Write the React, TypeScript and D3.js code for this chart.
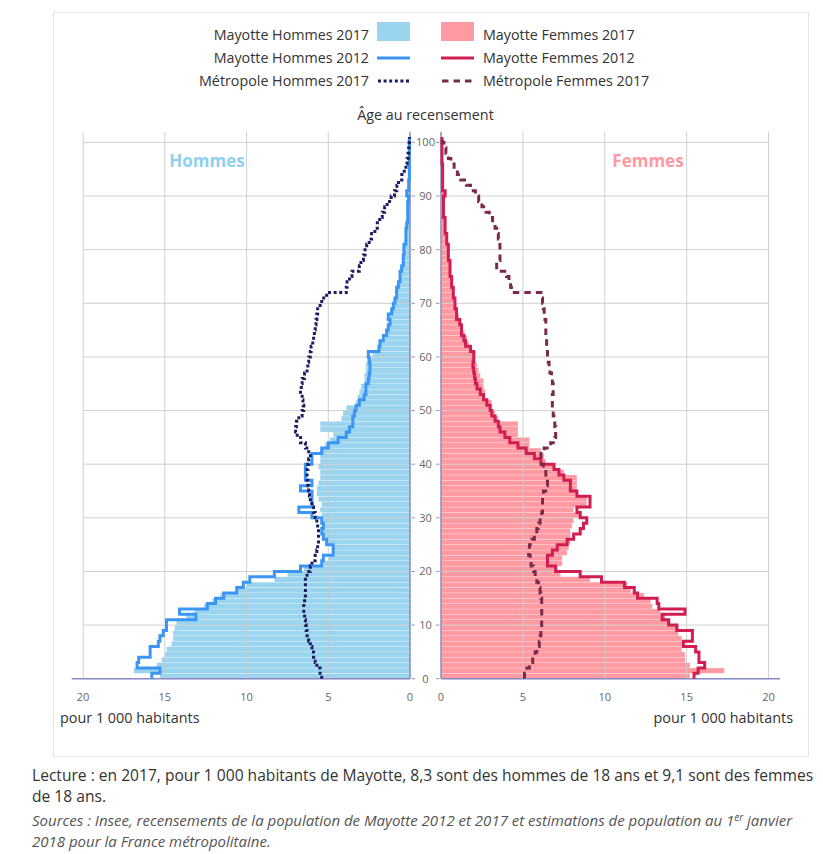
import React from 'react';
import * as d3 from 'd3';

// Ages 0..100, values per 1 000 inhabitants
const AGES = d3.range(0, 101);

const MAYOTTE_H_2017 = [
  15.3, 16.9, 15.5, 15.2, 15.0, 14.9, 14.6, 14.5, 14.5, 14.4,
  14.3, 13.7, 13.2, 12.6, 12.1, 11.6, 10.7, 10.0, 8.3, 7.5,
  6.5, 5.3, 5.0, 4.8, 4.8, 5.0, 5.2, 5.3, 5.3, 5.3,
  5.4, 5.5, 5.4, 5.6, 5.7, 5.7, 5.6, 5.5, 5.5, 5.6,
  5.5, 5.5, 5.4, 5.2, 4.9, 4.7, 5.5, 5.5, 4.2, 4.1,
  3.9, 3.3, 3.2, 3.1, 3.0, 2.8, 2.8, 2.7, 2.7, 2.6,
  2.3, 1.9, 1.8, 1.55, 1.5, 1.35, 1.3, 1.25, 1.2, 1.05,
  1.0, 0.85, 0.8, 0.75, 0.65, 0.65, 0.6, 0.5, 0.5, 0.45,
  0.45, 0.35, 0.3, 0.3, 0.25, 0.2, 0.2, 0.18, 0.16, 0.2,
  0.2, 0.1, 0.1, 0.08, 0.06, 0.05, 0.04, 0.03, 0.02, 0.02, 0.02,
];

const MAYOTTE_H_2012 = [
  15.8, 15.3, 16.7, 16.6, 15.9, 15.9, 15.4, 15.3, 15.1, 14.9,
  14.9, 13.1, 14.1, 12.4, 11.9, 11.4, 10.6, 10.2, 9.8, 8.3,
  6.7, 5.4, 5.3, 4.7, 4.7, 5.1, 5.3, 5.4, 5.3, 5.4,
  6.0, 6.8, 6.0, 6.0, 6.0, 6.7, 6.0, 6.4, 6.4, 6.4,
  6.0, 6.0, 5.4, 5.0, 4.4, 3.9, 3.7, 3.5, 3.5, 3.4,
  3.3, 3.1, 2.8, 2.7, 2.7, 2.55, 2.5, 2.45, 2.45, 2.5,
  2.55, 1.9, 1.84, 1.63, 1.43, 1.33, 1.22, 1.33, 1.12, 1.02,
  0.92, 0.82, 0.82, 0.71, 0.61, 0.61, 0.51, 0.41, 0.41, 0.37,
  0.37, 0.25, 0.25, 0.25, 0.2, 0.14, 0.14, 0.14, 0.14, 0.08,
  0.2, 0.08, 0.08, 0.04, 0.04, 0.04, 0.04, 0.04, 0.04, 0.04, 0.04,
];

const METRO_H_2017 = [
  5.4, 5.5, 5.7, 5.8, 5.9, 6.0, 6.1, 6.2, 6.3, 6.35,
  6.4, 6.45, 6.5, 6.5, 6.45, 6.4, 6.4, 6.4, 6.4, 6.3,
  6.1, 6.0, 5.8, 5.7, 5.65, 5.6, 5.6, 5.6, 5.65, 5.7,
  5.8, 5.9, 6.0, 6.1, 6.15, 6.2, 6.25, 6.3, 6.3, 6.25,
  6.2, 6.1, 6.2, 6.4, 6.7, 6.9, 7.0, 6.95, 6.8, 6.6,
  6.5, 6.55, 6.6, 6.7, 6.65, 6.6, 6.45, 6.3, 6.25, 6.2,
  6.1, 6.05, 5.95, 5.9, 5.85, 5.8, 5.75, 5.7, 5.65, 5.5,
  5.4, 5.1, 3.9, 3.85, 3.7, 3.55, 3.1, 3.0, 2.85, 2.75,
  2.65, 2.5, 2.35, 2.15, 2.0, 1.85, 1.7, 1.55, 1.4, 1.15,
  0.95, 0.8, 0.7, 0.5, 0.35, 0.25, 0.18, 0.12, 0.08, 0.05, 0.03,
];

const MAYOTTE_F_2017 = [
  15.2, 17.3, 15.2, 14.9, 14.9, 14.7, 14.7, 14.7, 14.5, 14.5,
  14.0, 13.7, 13.4, 12.9, 12.8, 12.4, 11.6, 11.4, 9.1, 7.3,
  7.1, 7.4, 7.4, 7.7, 7.8, 7.9, 7.9, 7.9, 8.0, 8.1,
  8.6, 8.1, 8.9, 8.9, 8.3, 8.3, 8.3, 8.3, 7.5, 6.9,
  6.4, 6.3, 6.1, 5.4, 5.4, 4.7, 4.7, 4.7, 3.5, 3.3,
  3.1, 3.1, 2.7, 2.7, 2.6, 2.6, 2.4, 2.3, 2.2, 2.1,
  2.1, 1.9, 1.7, 1.6, 1.45, 1.35, 1.2, 1.1, 1.0, 0.95,
  0.9, 0.8, 0.75, 0.7, 0.65, 0.6, 0.55, 0.5, 0.5, 0.45,
  0.45, 0.4, 0.35, 0.3, 0.28, 0.25, 0.2, 0.18, 0.16, 0.15,
  0.2, 0.12, 0.1, 0.08, 0.07, 0.06, 0.05, 0.04, 0.03, 0.02, 0.02,
];

const MAYOTTE_F_2012 = [
  15.45, 15.7, 16.1, 15.75, 15.75, 15.55, 14.8, 15.35, 15.35, 14.4,
  13.9, 13.5, 14.9, 13.3, 13.2, 12.0, 11.8, 11.2, 9.8, 8.5,
  7.0, 6.5, 6.5, 6.8, 7.1, 7.7, 8.1, 8.5, 8.7, 8.9,
  8.5, 8.3, 9.1, 9.1, 8.3, 7.9, 7.9, 7.5, 7.2, 6.9,
  6.1, 5.7, 5.2, 4.7, 4.2, 3.9, 3.6, 3.5, 3.3, 3.1,
  3.0, 2.8, 2.6, 2.4, 2.2, 2.1, 2.05, 2.0, 1.95, 2.0,
  2.0, 1.8, 1.5, 1.4, 1.25, 1.25, 1.15, 0.95, 0.95, 0.85,
  0.85, 0.75, 0.75, 0.65, 0.65, 0.55, 0.55, 0.55, 0.45, 0.45,
  0.45, 0.35, 0.35, 0.25, 0.25, 0.25, 0.15, 0.15, 0.15, 0.15,
  0.25, 0.1, 0.1, 0.1, 0.1, 0.1, 0.06, 0.06, 0.06, 0.06, 0.06,
];

const METRO_F_2017 = [
  5.1, 5.25, 5.4, 5.6, 5.75, 5.85, 6.0, 6.05, 6.1, 6.15,
  6.15, 6.15, 6.15, 6.15, 6.15, 6.1, 6.05, 5.95, 5.85, 5.75,
  5.65, 5.5, 5.45, 5.35, 5.4, 5.55, 5.7, 5.85, 5.95, 6.05,
  6.15, 6.2, 6.2, 6.2, 6.25, 6.4, 6.5, 6.5, 6.4, 6.25,
  6.15, 6.1, 6.3, 6.7, 6.95, 7.0, 7.0, 6.95, 6.9, 6.85,
  6.8, 6.8, 6.8, 6.85, 6.85, 6.8, 6.75, 6.65, 6.6, 6.55,
  6.5, 6.5, 6.45, 6.45, 6.4, 6.4, 6.4, 6.35, 6.3, 6.25,
  6.2, 6.1, 4.3, 4.25, 4.15, 4.0, 3.4, 3.4, 3.6, 3.6,
  3.6, 3.6, 3.5, 3.4, 3.3, 3.15, 2.95, 2.75, 2.5, 2.3,
  2.1, 1.8, 1.55, 1.2, 1.0, 0.8, 0.6, 0.45, 0.3, 0.18, 0.08,
];

const X_TICKS = [0, 5, 10, 15, 20];
const AGE_TICKS = d3.range(0, 101, 10);

const LEGEND_LEFT = ['Mayotte Hommes 2017', 'Mayotte Hommes 2012', 'Métropole Hommes 2017'];
const LEGEND_RIGHT = ['Mayotte Femmes 2017', 'Mayotte Femmes 2012', 'Métropole Femmes 2017'];

const C = {
  menFill: '#9bd4ef',
  men2012: '#3b96f3',
  menMetro: '#1c1c62',
  womenFill: '#ff9aa3',
  women2012: '#d01d52',
  womenMetro: '#7a2a4a',
  grid: '#c9c9c9',
  axis: '#8a8ac6',
  text: '#333333',
  tick: '#666666',
};

const FONT = '"Open Sans", "Noto Sans", sans-serif';

export default function App() {
  const width = 823;
  const height = 854;

  const y = d3.scaleLinear().domain([0, 102]).range([678.7, 131.7]);
  const xL = d3.scaleLinear().domain([0, 20.7]).range([410, 71.7]);
  const xR = d3.scaleLinear().domain([0, 20.7]).range([441, 780]);

  // step outline: one vertical segment per age band
  const stepPath = (vals: number[], xs: d3.ScaleLinear<number, number>) => {
    const pts = vals.flatMap((v, a) => [[v, a], [v, a + 1]] as [number, number][]);
    return d3.line<[number, number]>().x(d => xs(d[0])).y(d => y(d[1]))(pts) || '';
  };

  const bars = (vals: number[], xs: d3.ScaleLinear<number, number>, fill: string) =>
    AGES.map(a => {
      const x0 = xs(0), x1 = xs(vals[a]);
      return (
        <rect key={a} x={Math.min(x0, x1)} y={y(a + 1)} width={Math.abs(x1 - x0)} height={y(a) - y(a + 1)}
          fill={fill} stroke="#ffffff" strokeOpacity={0.35} strokeWidth={0.6} />
      );
    });

  const grid = (xs: d3.ScaleLinear<number, number>, side: string) => (
    <g key={side}>
      {AGE_TICKS.map(t => (
        <line key={'h' + t} x1={xs(0)} x2={xs(20)} y1={y(t)} y2={y(t)} stroke={C.grid} strokeWidth={1} opacity={0.85} />
      ))}
      {X_TICKS.filter(t => t > 0).map(t => (
        <line key={'v' + t} x1={xs(t)} x2={xs(t)} y1={y(102)} y2={y(0)} stroke={C.grid} strokeWidth={1} opacity={0.85} />
      ))}
    </g>
  );

  const legendX = { symL: 377, symR: 441, symW: 33 };
  const rowsY = [40, 63, 86];

  return (
    <svg width={width} height={height} style={{ position: 'absolute', left: 0, top: 0, background: '#fff' }}
      fontFamily={FONT}>
      <rect x={53.5} y={12.5} width={755} height={744} fill="none" stroke="#e3e3e3" strokeWidth={1} />

      {/* Legend */}
      {LEGEND_LEFT.map((t, i) => (
        <text key={t} x={369} y={rowsY[i]} textAnchor="end" fontSize={14.3} fill={C.text}>{t}</text>
      ))}
      {LEGEND_RIGHT.map((t, i) => (
        <text key={t} x={483} y={rowsY[i]} fontSize={14.3} fill={C.text}>{t}</text>
      ))}
      <rect x={legendX.symL} y={22} width={legendX.symW} height={19} fill={C.menFill} />
      <rect x={legendX.symR} y={22} width={legendX.symW} height={19} fill={C.womenFill} />
      <line x1={legendX.symL} x2={legendX.symL + legendX.symW} y1={58} y2={58} stroke={C.men2012} strokeWidth={3} />
      <line x1={legendX.symR} x2={legendX.symR + legendX.symW} y1={58} y2={58} stroke={C.women2012} strokeWidth={3} />
      <line x1={legendX.symL + 1} x2={legendX.symL + legendX.symW} y1={81} y2={81} stroke={C.menMetro} strokeWidth={3} strokeDasharray="3,2.6" />
      <line x1={legendX.symR + 1} x2={legendX.symR + legendX.symW} y1={81} y2={81} stroke={C.womenMetro} strokeWidth={3} strokeDasharray="6.5,5" />

      <text x={425.5} y={120} textAnchor="middle" fontSize={14.3} fill={C.text}>Âge au recensement</text>

      {/* Bars */}
      {bars(MAYOTTE_H_2017, xL, C.menFill)}
      {bars(MAYOTTE_F_2017, xR, C.womenFill)}

      {grid(xL, 'L')}
      {grid(xR, 'R')}

      {/* Axes */}
      <line x1={xL(20.7)} x2={xL(0)} y1={y(0)} y2={y(0)} stroke={C.axis} strokeWidth={1.5} />
      <line x1={xR(0)} x2={xR(20.7)} y1={y(0)} y2={y(0)} stroke={C.axis} strokeWidth={1.5} />
      <line x1={xL(0)} x2={xL(0)} y1={y(102)} y2={y(0)} stroke={C.axis} strokeWidth={1.5} />
      <line x1={xR(0)} x2={xR(0)} y1={y(102)} y2={y(0)} stroke={C.axis} strokeWidth={1.5} />

      {/* Age labels between the two panels */}
      {AGE_TICKS.map(t => (
        <g key={'age' + t}>
          <line x1={411.5} x2={415} y1={y(t)} y2={y(t)} stroke="#999" strokeWidth={1} />
          <line x1={436} x2={439.5} y1={y(t)} y2={y(t)} stroke="#999" strokeWidth={1} />
          <text x={425.5} y={y(t)} dy="0.35em" textAnchor="middle" fontSize={11} fill={C.tick}>{t}</text>
        </g>
      ))}

      {/* Lines */}
      <path d={stepPath(MAYOTTE_H_2012, xL)} fill="none" stroke={C.men2012} strokeWidth={3} strokeLinejoin="miter" />
      <path d={stepPath(MAYOTTE_F_2012, xR)} fill="none" stroke={C.women2012} strokeWidth={3} strokeLinejoin="miter" />
      <path d={stepPath(METRO_H_2017, xL)} fill="none" stroke={C.menMetro} strokeWidth={3} strokeDasharray="3,2.6" />
      <path d={stepPath(METRO_F_2017, xR)} fill="none" stroke={C.womenMetro} strokeWidth={3} strokeDasharray="6.5,5" />

      {/* X tick labels */}
      {X_TICKS.map(t => (
        <text key={'xl' + t} x={xL(t)} y={701} textAnchor="middle" fontSize={11} fill={C.tick}>{t}</text>
      ))}
      {X_TICKS.map(t => (
        <text key={'xr' + t} x={xR(t)} y={701} textAnchor="middle" fontSize={11} fill={C.tick}>{t}</text>
      ))}
      <text x={60} y={723} fontSize={14.4} fill={C.text}>pour 1 000 habitants</text>
      <text x={793} y={723} textAnchor="end" fontSize={14.4} fill={C.text}>pour 1 000 habitants</text>

      <text x={207} y={167} textAnchor="middle" fontSize={17} fontWeight="bold" fill="#8fd0ef">Hommes</text>
      <text x={648} y={167} textAnchor="middle" fontSize={17} fontWeight="bold" fill="#ff9aa3">Femmes</text>

      {/* Notes */}
      <text x={32} y={781} fontSize={15.6} fill={C.text}>
        Lecture : en 2017, pour 1 000 habitants de Mayotte, 8,3 sont des hommes de 18 ans et 9,1 sont des femmes
      </text>
      <text x={32} y={802} fontSize={15.6} fill={C.text}>de 18 ans.</text>
      <text x={32} y={826} fontSize={15} fontStyle="italic" fill="#555">
        Sources : Insee, recensements de la population de Mayotte 2012 et 2017 et estimations de population au 1
        <tspan fontSize={10} dy={-5}>er</tspan>
        <tspan dy={5}> janvier</tspan>
      </text>
      <text x={32} y={847} fontSize={15} fontStyle="italic" fill="#555">2018 pour la France métropolitaine.</text>
    </svg>
  );
}
